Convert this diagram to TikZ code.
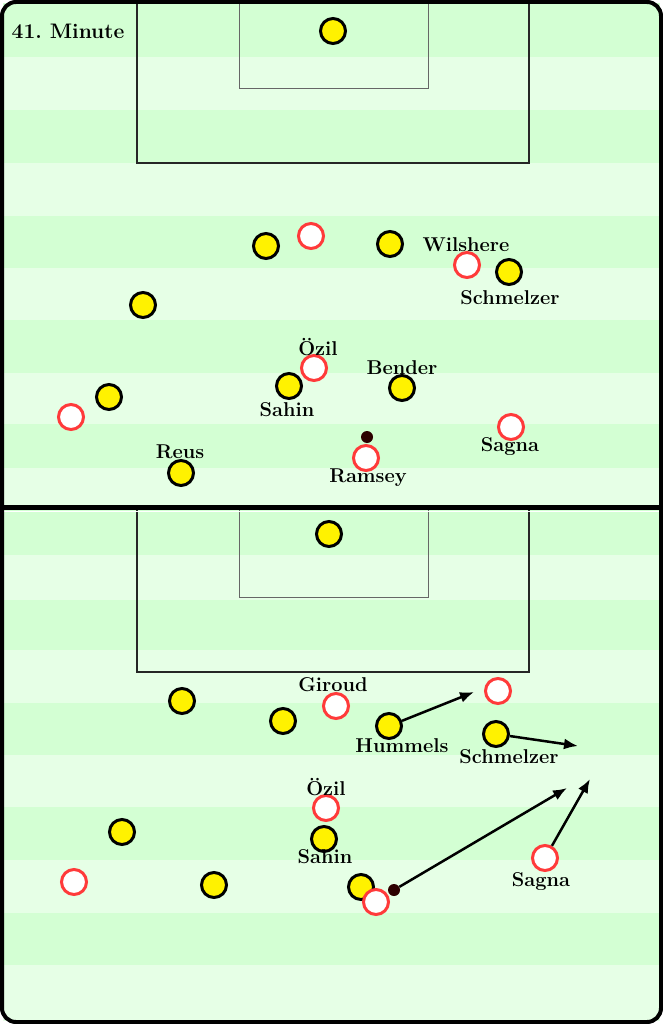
\documentclass[tikz,border=0pt]{standalone}
\usetikzlibrary{arrows.meta}
\definecolor{pitchdark}{RGB}{211,255,211}
\definecolor{pitchlight}{RGB}{230,255,230}
\definecolor{redteam}{RGB}{255,58,58}
\definecolor{ballcol}{RGB}{45,0,0}
\tikzset{
  bvb/.style={circle,draw=black,line width=3pt,fill=yellow,minimum size=25pt,inner sep=0pt},
  afc/.style={circle,draw=redteam,line width=3pt,fill=white,minimum size=25pt,inner sep=0pt},
  ball/.style={circle,fill=ballcol,minimum size=12pt,inner sep=0pt},
  plname/.style={font=\fontsize{20}{24}\selectfont\bfseries,inner sep=0pt},
  run/.style={line width=2.5pt,-{Latex[length=14pt,width=11pt]}}
}
\begin{document}
\begin{tikzpicture}[x=1pt,y=-1pt]
  \useasboundingbox (0,0) rectangle (663,1024);
  % stripes
  \foreach \a/\b/\c in {3/57/pitchdark,57/110/pitchlight,110/163/pitchdark,163/216/pitchlight,
      216/268/pitchdark,268/320/pitchlight,320/373/pitchdark,373/424/pitchlight,
      424/468/pitchdark,468/506/pitchlight,
      508/555/pitchdark,555/600/pitchlight,600/650/pitchdark,650/703/pitchlight,
      703/755/pitchdark,755/807/pitchlight,807/860/pitchdark,860/913/pitchlight,
      913/965/pitchdark,965/1021/pitchlight}
    \fill[\c] (3,\a) rectangle (660,\b);
  % boxes
  \draw[line width=1.2pt,black!85] (137,3) -- (137,163) -- (529,163) -- (529,3);
  \draw[line width=1pt,black!60] (239,3) -- (239,89) -- (428,89) -- (428,3);
  \draw[line width=1.2pt,black!85] (137,508) -- (137,672) -- (529,672) -- (529,508);
  \draw[line width=1pt,black!60] (239,508) -- (239,597) -- (428,597) -- (428,508);
  % frame
  \draw[white,line width=1pt] (3,511) -- (660,511);
  \draw[line width=5pt] (0,507) -- (663,507);
  \draw[line width=4pt,rounded corners=14pt] (2,2) rectangle (661,1022);

  \node[plname,font=\fontsize{21}{25}\selectfont\bfseries] (minute) at (68,31) {41.\ Minute};

  % top
  \node[bvb] (gk1) at (333,31) {};
  \node[bvb] (p1) at (266,246) {};
  \node[afc] (a1) at (311,236) {};
  \node[bvb] (p2) at (390,244) {};
  \node[afc] (wilshere) at (467,265) {};
  \node[plname] at (466,245) {Wilshere};
  \node[bvb] (schmelzer1) at (509,272) {};
  \node[plname] at (510,298) {Schmelzer};
  \node[bvb] (p3) at (143,305) {};
  \node[afc] (oezil1) at (314,368) {};
  \node[plname] at (318,347) {Özil};
  \node[bvb] (sahin1) at (289,386) {};
  \node[plname] at (287,410) {Sahin};
  \node[bvb] (bender) at (402,388) {};
  \node[plname] at (402,368) {Bender};
  \node[bvb] (p4) at (109,397) {};
  \node[afc] (a2) at (71,417) {};
  \node[afc] (sagna1) at (511,427) {};
  \node[plname] at (510,447) {Sagna};
  \node[ball] (ball1) at (367,437) {};
  \node[afc] (ramsey) at (366,458) {};
  \node[plname] at (368,478) {Ramsey};
  \node[bvb] (reus) at (181,473) {};
  \node[plname] at (180,452) {Reus};

  % bottom
  \node[bvb] (gk2) at (329,534) {};
  \node[bvb] (p5) at (182,701) {};
  \node[afc] (giroud) at (336,706) {};
  \node[plname] at (333,685) {Giroud};
  \node[bvb] (p6) at (283,721) {};
  \node[bvb] (hummels) at (389,726) {};
  \node[plname] at (402,746) {Hummels};
  \node[afc] (a3) at (498,691) {};
  \node[bvb] (schmelzer2) at (496,734) {};
  \node[plname] at (509,757) {Schmelzer};
  \node[afc] (oezil2) at (326,808) {};
  \node[plname] at (326,787) {Özil};
  \node[bvb] (sahin2) at (324,839) {};
  \node[plname] at (325,857) {Sahin};
  \node[bvb] (p7) at (122,832) {};
  \node[afc] (a4) at (74,882) {};
  \node[bvb] (p8) at (214,885) {};
  \node[bvb] (p9) at (361,887) {};
  \node[afc] (ramsey2) at (376,902) {};
  \node[ball] (ball2) at (394,890) {};
  \node[afc] (sagna2) at (545,858) {};
  \node[plname] at (541,882) {Sagna};

  \coordinate (h) at (474,692);
  \coordinate (s) at (578,746);
  \coordinate (b) at (567,788);
  \coordinate (g) at (590,779);
  \draw[run] (hummels) -- (h);
  \draw[run] (schmelzer2) -- (s);
  \draw[run] (ball2) -- (b);
  \draw[run] (sagna2) -- (g);
\end{tikzpicture}
\end{document}
